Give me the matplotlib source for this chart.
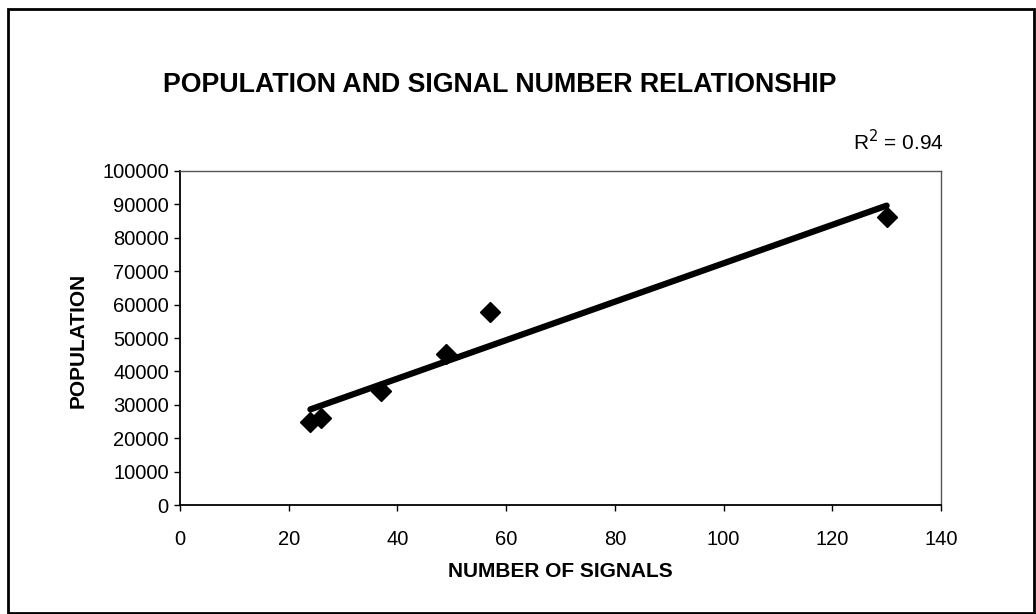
import matplotlib.pyplot as plt
import numpy as np
from matplotlib.patches import Rectangle

plt.rcParams['font.family'] = ['Liberation Sans', 'DejaVu Sans']

signals = [24, 26, 37, 49, 57, 130]
population = [25000, 26200, 34200, 45300, 57900, 86200]
x_ticks = [0, 20, 40, 60, 80, 100, 120, 140]
y_ticks = list(range(0, 100001, 10000))

# linear trendline through the points
slope, intercept = np.polyfit(signals, population, 1)
trend_x = np.array([min(signals), max(signals)])
trend_y = slope * trend_x + intercept

fig = plt.figure(figsize=(10.36, 6.14), dpi=100)
ax = fig.add_axes([0.1737, 0.1775, 0.7346, 0.544])

ax.plot(trend_x, trend_y, color='black', linewidth=4.5, solid_capstyle='round', zorder=2)
ax.plot(signals, population, linestyle='none', marker='D', markersize=10,
        color='black', zorder=3)

ax.set_xlim(0, 140)
ax.set_ylim(0, 100000)
ax.set_xticks(x_ticks)
ax.set_yticks(y_ticks)
ax.tick_params(axis='both', direction='out', length=4, width=1, labelsize=14.5)
ax.tick_params(axis='y', pad=4)
ax.tick_params(axis='x', pad=14)

for side in ['left', 'bottom']:
    ax.spines[side].set_color('black')
    ax.spines[side].set_linewidth(1.3)
for side in ['top', 'right']:
    ax.spines[side].set_color('#555555')
    ax.spines[side].set_linewidth(1.0)

fig.text(0.482, 0.862, 'POPULATION AND SIGNAL NUMBER RELATIONSHIP',
         ha='center', va='center', fontsize=19.3, fontweight='bold')
fig.text(0.911, 0.770, r'R$^2$ = 0.94', ha='right', va='center', fontsize=15)
fig.text(0.075, 0.446, 'POPULATION', rotation=90, ha='center', va='center',
         fontsize=15, fontweight='bold')
fig.text(0.541, 0.069, 'NUMBER OF SIGNALS', ha='center', va='center',
         fontsize=15, fontweight='bold')

# outer chart border
fig.patches.append(Rectangle((0.0077, 0.002), 0.99, 0.983, transform=fig.transFigure,
                             fill=False, edgecolor='black', linewidth=2))

fig.savefig('out.png', dpi=100)
